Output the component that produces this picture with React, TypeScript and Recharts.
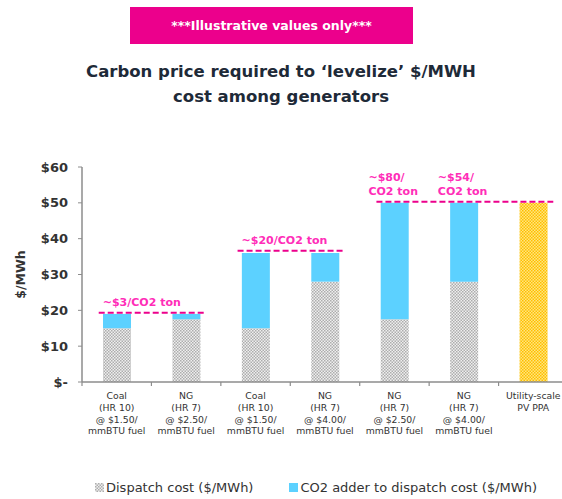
import { ComposedChart, Bar, XAxis, YAxis, ReferenceLine, ReferenceDot } from "recharts";

const categoryKeys = ["coal10a", "ng7a", "coal10b", "ng7b", "ng7c", "ng7d", "pv"];
const categoryLabels = [
  ["Coal", "(HR 10)", "@ $1.50/", "mmBTU fuel"],
  ["NG", "(HR 7)", "@ $2.50/", "mmBTU fuel"],
  ["Coal", "(HR 10)", "@ $1.50/", "mmBTU fuel"],
  ["NG", "(HR 7)", "@ $4.00/", "mmBTU fuel"],
  ["NG", "(HR 7)", "@ $2.50/", "mmBTU fuel"],
  ["NG", "(HR 7)", "@ $4.00/", "mmBTU fuel"],
  ["Utility-scale", "PV PPA"],
];
const dispatchCost = [15, 17.5, 15, 28, 17.5, 28, 0];
const co2Adder = [4, 1.5, 21, 8, 32.5, 22, 0];
const pvPpa = [0, 0, 0, 0, 0, 0, 50];
const yTicks = [0, 10, 20, 30, 40, 50, 60];

// dashed "levelized" lines: from / to category index, $/MWh level
const levelFrom = [0, 2, 4];
const levelTo = [1, 3, 6];
const levelValue = [19.3, 36.6, 50.3];

// carbon price call-outs
const calloutAt = [0, 2, 4, 5];
const calloutValue = [19.3, 36.6, 50.3, 50.3];
const calloutText = [["~$3/CO2 ton"], ["~$20/CO2 ton"], ["~$80/", "CO2 ton"], ["~$54/", "CO2 ton"]];

const FONT = "'DejaVu Sans', Verdana, sans-serif";
const PINK = "#EC008C";
const LABEL_PINK = "#FF2DB8";
const BLUE = "#5CD1FF";
const AXIS = "#8c8c8c";
const TEXT = "#333333";

const CHART_W = 568;
const Y_AXIS_W = 82;
const BAND = (CHART_W - Y_AXIS_W) / categoryKeys.length;

const data = categoryKeys.map((k, i) => ({
  key: k,
  dispatch: dispatchCost[i],
  adder: co2Adder[i],
  pv: pvPpa[i],
}));

function CategoryTick(props: any) {
  const { x, y, index, payload } = props;
  const idx = index ?? categoryKeys.indexOf(payload.value);
  const lines = categoryLabels[idx] || [];
  const top = y - 8; // axis line
  return (
    <g>
      <line x1={x - BAND / 2} x2={x - BAND / 2} y1={top} y2={top + 4} stroke={AXIS} strokeWidth={1.2} />
      {idx === categoryKeys.length - 1 && (
        <line x1={x + BAND / 2} x2={x + BAND / 2} y1={top} y2={top + 4} stroke={AXIS} strokeWidth={1.2} />
      )}
      <text x={x} y={top + 17} textAnchor="middle" fontFamily={FONT} fontSize={9.3} fill={TEXT}>
        {lines.map((l, i) => (
          <tspan key={i} x={x} dy={i === 0 ? 0 : 11.8}>{l}</tspan>
        ))}
      </text>
    </g>
  );
}

function DashedLevel(props: any) {
  const x1 = Math.min(props.x1, props.x2) - 18;
  const x2 = Math.max(props.x1, props.x2) + 20;
  return <line x1={x1} x2={x2} y1={props.y1} y2={props.y2} stroke={PINK} strokeWidth={2} strokeDasharray="6 3" />;
}

function Callout(lines: string[]) {
  return (props: any) => {
    const { cx, cy } = props;
    const left = cx - (lines.length > 1 ? 26 : 14);
    const firstY = cy - 7 - (lines.length - 1) * 14;
    return (
      <text x={left} y={firstY} fontFamily={FONT} fontSize={11} fontWeight="bold" fill={LABEL_PINK}>
        {lines.map((l, i) => (
          <tspan key={i} x={left} dy={i === 0 ? 0 : 14}>{l}</tspan>
        ))}
      </text>
    );
  };
}

export default function App() {
  return (
    <div style={{ position: "absolute", top: 0, left: 0, width: 562, height: 499, overflow: "hidden", background: "#fff", fontFamily: FONT }}>
      <div style={{ position: "absolute", left: 130, top: 7, width: 283, height: 37, background: PINK, color: "#fff", fontWeight: "bold", fontSize: 12.5, display: "flex", alignItems: "center", justifyContent: "center" }}>
        ***Illustrative values only***
      </div>
      <div style={{ position: "absolute", left: 0, top: 59, width: 562, textAlign: "center", fontWeight: "bold", fontSize: 16.5, lineHeight: "25px", color: "#1e2a38" }}>
        Carbon price required to ‘levelize’ $/MWH
        <br />
        cost among generators
      </div>

      <div style={{ position: "absolute", left: 0, top: 0 }}>
        <ComposedChart width={CHART_W} height={499} data={data} margin={{ top: 167, right: 0, left: 0, bottom: 57 }} barSize={28}>
          <defs>
            <pattern id="dispatchPat" width="3" height="3" patternUnits="userSpaceOnUse">
              <rect width="3" height="3" fill="#efefef" />
              <rect x="0" y="0" width="1.5" height="1.5" fill="#adadad" />
              <rect x="1.5" y="1.5" width="1.5" height="1.5" fill="#adadad" />
            </pattern>
            <pattern id="pvPat" width="3" height="3" patternUnits="userSpaceOnUse">
              <rect width="3" height="3" fill="#FFE680" />
              <rect x="0" y="0" width="1.5" height="1.5" fill="#FFBE00" />
              <rect x="1.5" y="1.5" width="1.5" height="1.5" fill="#FFBE00" />
            </pattern>
          </defs>
          <XAxis
            dataKey="key"
            height={60}
            tick={<CategoryTick />}
            tickLine={false}
            axisLine={{ stroke: AXIS, strokeWidth: 1.5 }}
            tickSize={0}
            tickMargin={8}
            interval={0}
          />
          <YAxis
            width={Y_AXIS_W}
            domain={[0, 60]}
            ticks={yTicks}
            tickFormatter={(v: number) => (v === 0 ? "$-" : `$${v}`)}
            tick={{ fill: TEXT, fontSize: 13, fontFamily: FONT, fontWeight: "bold" }}
            axisLine={{ stroke: AXIS, strokeWidth: 1.5 }}
            tickLine={{ stroke: AXIS }}
            tickSize={4}
            tickMargin={10}
            label={{
              content: (p: any) => {
                const vb = p.viewBox || {};
                const cx = 21;
                const cy = vb.y + vb.height / 2;
                return (
                  <text x={cx} y={cy} transform={`rotate(-90 ${cx} ${cy})`} textAnchor="middle" dominantBaseline="middle" fontFamily={FONT} fontSize={12.5} fontWeight="bold" fill={TEXT}>
                    $/MWh
                  </text>
                );
              },
            }}
          />
          <Bar dataKey="dispatch" stackId="a" fill="url(#dispatchPat)" isAnimationActive={false} />
          <Bar dataKey="adder" stackId="a" fill={BLUE} isAnimationActive={false} />
          <Bar dataKey="pv" stackId="a" fill="url(#pvPat)" isAnimationActive={false} />
          {levelValue.map((v, i) => (
            <ReferenceLine
              key={`lvl${i}`}
              segment={[
                { x: categoryKeys[levelFrom[i]], y: v },
                { x: categoryKeys[levelTo[i]], y: v },
              ]}
              ifOverflow="visible"
              shape={<DashedLevel />}
            />
          ))}
          {calloutText.map((lines, i) => (
            <ReferenceDot
              key={`co${i}`}
              x={categoryKeys[calloutAt[i]]}
              y={calloutValue[i]}
              r={0}
              ifOverflow="visible"
              shape={Callout(lines)}
            />
          ))}
        </ComposedChart>
      </div>

      <div style={{ position: "absolute", left: 95, top: 480, fontSize: 13, color: TEXT, display: "flex", alignItems: "center", whiteSpace: "nowrap" }}>
        <svg width="9" height="9" style={{ marginRight: 2 }}>
          <rect width="9" height="9" fill="url(#dispatchPat)" />
        </svg>
        <span>Dispatch cost ($/MWh)</span>
        <span style={{ display: "inline-block", width: 9, height: 9, background: BLUE, marginLeft: 36, marginRight: 2 }} />
        <span>CO2 adder to dispatch cost ($/MWh)</span>
      </div>
    </div>
  );
}
